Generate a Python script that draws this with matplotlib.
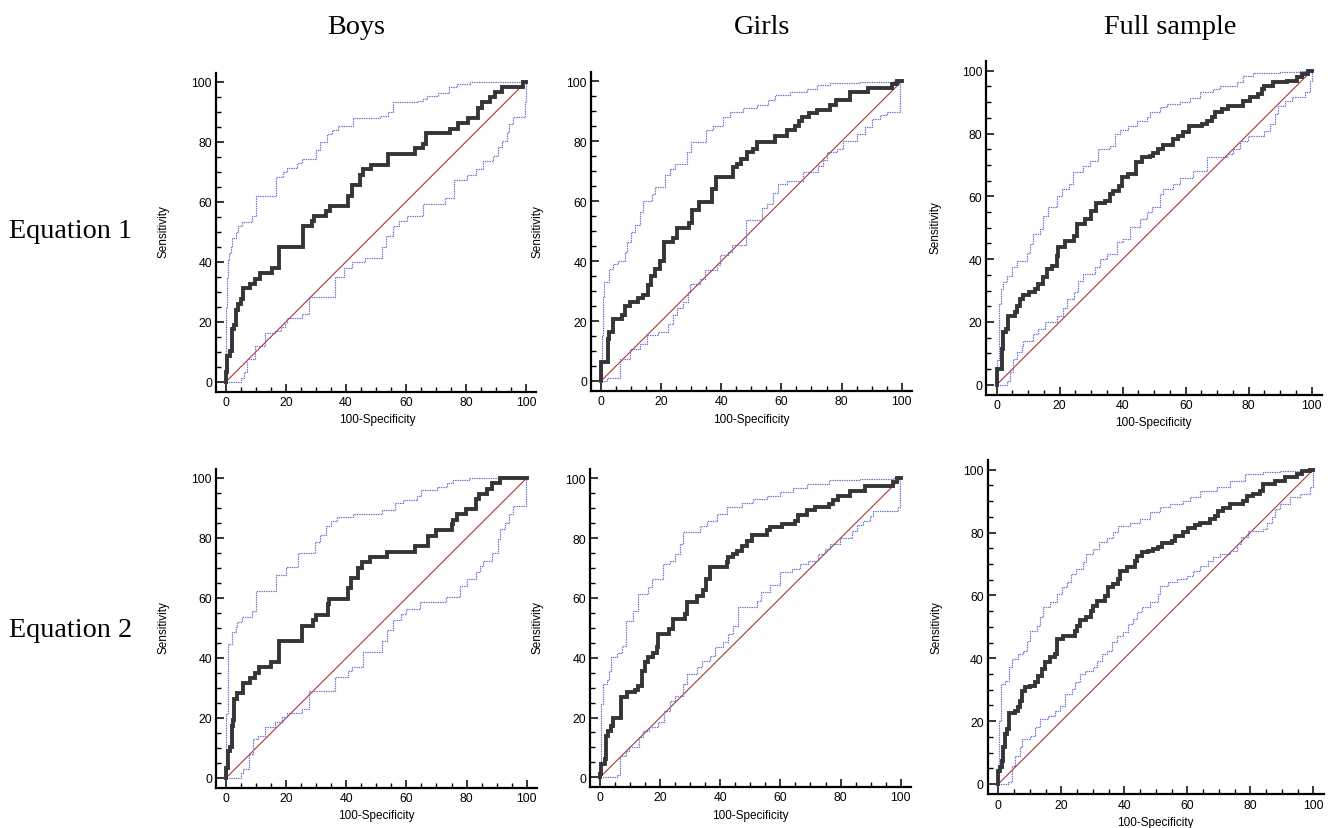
import matplotlib
matplotlib.use("Agg")
import matplotlib.pyplot as plt
from matplotlib.ticker import MultipleLocator

# ROC step corners: (100-specificity, sensitivity) where each vertical jump ends
boys_eq1_roc = [(0, 0), (0, 3.3), (0.4, 8.7), (1.3, 10.3), (2.1, 17.6), (2.7, 18.9), (3.3, 24), (4.1, 25.9),
                (4.9, 27.6), (5.8, 31.2), (8, 32.6), (9.7, 34.2), (11.3, 36.2), (15.2, 37.9), (17.8, 44.8),
                (25.6, 52), (28.8, 53.7), (29.4, 55.3), (33.2, 57), (34.7, 58.7), (40.8, 62), (42.1, 65.7),
                (44.7, 68.9), (45.8, 70.9), (48.3, 72.3), (54.1, 75.9), (63, 77.8), (65.6, 79.2), (66.7, 82.9),
                (74.7, 84.4), (77.4, 86.4), (80.8, 87.9), (84.1, 91.4), (85.4, 93.1), (88, 94.8), (89.7, 96.7),
                (91.9, 98.4), (98.9, 100), (100, 100)]
boys_eq1_upper = [(0, 0), (0, 10), (0.1, 25), (0.3, 35), (0.6, 40.5), (1.1, 43), (1.8, 45), (2, 48), (3.3, 49.8),
                  (4.1, 52), (5.2, 53.3), (8.6, 55.1), (10, 61.8), (16.7, 68.1), (19.1, 69.8), (20.2, 71.1),
                  (23.6, 72.8), (25.2, 74.2), (30, 77.3), (31.3, 80), (33.6, 82.6), (35.2, 84), (37.4, 85.3),
                  (42.4, 87.9), (51.3, 88.7), (54.1, 89.8), (55.8, 93.1), (63.6, 93.7), (65.8, 94.2), (66.9, 95.3),
                  (70.8, 96.1), (74.3, 98.1), (76.9, 99.2), (81.3, 99.8), (95.8, 100), (100, 100)]
boys_eq1_lower = [(0, 0), (5, 1.4), (6.1, 3.1), (7, 7.5), (9.7, 12), (13, 16.4), (16.3, 17), (18.4, 18.4),
                  (19.8, 19.8), (20.2, 21.1), (25.2, 22.6), (27.8, 28.4), (36.3, 34.8), (39.4, 37.9), (41.9, 39.8),
                  (46.3, 41.4), (52.1, 45), (53.3, 48.7), (55.8, 52), (57.8, 53.7), (60.2, 55.3), (65.6, 59.2),
                  (73, 61.4), (76, 67.3), (80.4, 68.9), (83.3, 70.9), (85.8, 73.7), (89.1, 75.1), (90.8, 78.1),
                  (91.9, 80.3), (93.6, 83.1), (94.4, 85.9), (95.8, 88.3), (99.7, 93.1), (100, 100)]

girls_eq1_roc = [(0, 0), (0, 6.3), (2.2, 14.1), (2.8, 16.3), (4.1, 20.6), (6.9, 21.9), (8, 25), (9.6, 26.3),
                 (12.4, 27.7), (13.9, 28.6), (15.7, 31.9), (16.5, 35.2), (18, 37.4), (19.6, 40.2), (21, 46.3),
                 (24, 47.7), (25.4, 51), (29.4, 52.8), (30.2, 56.9), (32.7, 59.7), (36.8, 64.1), (38.2, 68),
                 (43.8, 71.3), (45.1, 72.4), (46.6, 74.1), (48.7, 76.3), (50.7, 77.4), (51.8, 79.9), (57.9, 81.9),
                 (61.8, 83.6), (64.5, 85), (66, 86.9), (66.7, 88), (69.3, 89.3), (71.9, 90.4), (76.2, 92.1),
                 (78.2, 93.8), (82.8, 96.3), (88.9, 97.7), (96.7, 99.1), (98.3, 100), (100, 100)]
girls_eq1_upper = [(0, 0), (0.2, 15), (0.5, 28), (1.1, 33), (2.8, 37.4), (3.9, 39), (5.8, 40.2), (8, 43),
                   (8.8, 46.3), (9.9, 49.7), (11.3, 51.9), (13, 56.3), (14.1, 60.2), (16.9, 62.4), (18, 64.7),
                   (21.3, 68.6), (23, 70.8), (24.6, 72.4), (28.5, 76.3), (29.8, 79.9), (34.9, 83.6), (37.4, 85.2),
                   (40.7, 88), (42.9, 89.7), (47.3, 91), (51.8, 92.1), (55.7, 93.6), (57.9, 95.4), (62.9, 96.3),
                   (68.4, 97.4), (71.7, 98.6), (76.2, 99.4), (86.1, 99.9), (97.2, 100), (100, 100)]
girls_eq1_lower = [(0, 0), (1.9, 1), (6.3, 7.4), (9.6, 10.8), (13, 12.4), (15.2, 15.2), (19.1, 16.3), (22.4, 19.1),
                   (24, 21.9), (25.2, 24.3), (27.4, 26.3), (29, 29.7), (29.6, 32.4), (32.9, 34.1), (34.6, 36.9),
                   (38.5, 38.6), (39.6, 41.9), (42.4, 43.2), (43.5, 45.4), (48.2, 53.6), (53.4, 57.7), (55.1, 59.1),
                   (57.3, 62.8), (59, 65.8), (61.8, 66.9), (67.3, 69.9), (72.3, 71.9), (73.9, 73.9), (75.1, 76.3),
                   (78.4, 77.4), (80.6, 80.2), (85, 82.4), (87.8, 84.7), (90, 87.4), (92.8, 88.6), (95, 89.7),
                   (99.4, 100), (100, 100)]

full_eq1_roc = [(0, 0), (0, 5), (1.6, 11.4), (2.1, 16.7), (3, 17.7), (3.7, 22), (5.8, 23), (6.3, 25.2), (7.4, 27.3),
                (8.5, 28.6), (10.1, 29.4), (12.2, 30.5), (13.2, 32.1), (14.8, 34.2), (15.9, 36.8), (17.5, 37.9),
                (19, 41.1), (19.6, 43.7), (21.7, 45.9), (24.6, 47.5), (25.6, 51.2), (28, 52.8), (29.8, 55.4),
                (31.5, 57.9), (34.4, 58.6), (36, 60.7), (37, 61.8), (38.8, 63.4), (39.7, 66), (41.8, 67.1),
                (44.2, 70.8), (46, 72.4), (48.7, 72.9), (49.7, 73.8), (51.3, 75.1), (52.9, 76.3), (56.1, 78.2),
                (57.7, 79.3), (59.3, 80.4), (61.2, 82.5), (65.1, 83), (66.7, 84.1), (68.3, 85.1), (69.3, 86.7),
                (71.4, 87.8), (73.5, 88.9), (78.3, 90.4), (80.4, 91.5), (83.1, 92.6), (84.1, 94.2), (84.7, 95.2),
                (87.8, 96.3), (92.1, 96.8), (95.2, 97.9), (96.8, 98.9), (98.9, 100), (100, 100)]
full_eq1_upper = [(0, 0), (0.2, 8), (0.6, 25.7), (1.4, 30.5), (2.1, 32.6), (3.4, 34.7), (4.8, 37.4), (6.3, 39.5),
                  (9.5, 42.1), (10.6, 44.8), (11.6, 48), (13.8, 49.6), (14.8, 53.8), (16.4, 56.5), (19, 60.2),
                  (20.6, 62.3), (22.8, 63.9), (24.3, 67.6), (27.5, 69.7), (29.6, 71.3), (32.3, 75.1), (36, 76.1),
                  (37.6, 79.8), (39.2, 81.2), (41.8, 82.5), (44.4, 84.1), (47.6, 85.1), (48.7, 86.7), (51.9, 88.3),
                  (54, 89.4), (58.2, 90.1), (61.4, 91.2), (64.6, 93.1), (68.8, 94.2), (70.9, 95.2), (76.2, 96.3),
                  (78.3, 98.4), (81.5, 99.3), (89.9, 99.7), (96.3, 100), (100, 100)]
full_eq1_lower = [(0, 0), (3.4, 1.2), (4.2, 4.1), (5.3, 8.2), (6.3, 10.3), (7.9, 12.4), (8.5, 14), (11.6, 16.1),
                  (13.2, 17.7), (15.3, 19.9), (19, 22), (21.2, 24.3), (22.2, 27.3), (24.6, 29.4), (25.9, 33.1),
                  (27.5, 35.2), (31.2, 37.4), (32.8, 40), (34.9, 41.6), (38.1, 45.5), (40.2, 46.4), (42.3, 50.1),
                  (45.5, 52.8), (47.6, 54.9), (49.2, 56.5), (51.9, 60.7), (52.9, 62.3), (56.1, 63.9), (58.2, 65.7),
                  (62.4, 68.2), (66.7, 72.4), (73, 73.5), (75.1, 75.1), (77.2, 77.7), (79.9, 79.3), (84.7, 80.9),
                  (86.8, 83), (88.4, 86.2), (89.4, 88.9), (91.5, 90.4), (93.7, 91.5), (97.9, 93.1), (99.5, 96.8),
                  (100, 100)]

boys_eq2_roc = [(0, 0), (0, 3.3), (0.6, 8.9), (1.3, 10.4), (1.9, 17.4), (2.4, 19.3), (2.8, 26.3), (3.5, 28.2),
                (5.8, 31.6), (8, 33.3), (9.6, 34.9), (11.1, 36.9), (15, 38.6), (17.6, 45.8), (25.2, 50.8),
                (29, 52.7), (29.8, 54.3), (33.8, 58), (34.3, 59.7), (40.5, 63.3), (41.6, 66.7), (44, 70),
                (45.3, 71.9), (47.9, 73.8), (53.7, 75.4), (62.9, 77.4), (67.3, 80.8), (69.8, 82.7), (75.1, 84.7),
                (75.6, 86), (76.7, 88), (79.8, 89.7), (83.3, 93), (84.3, 94.7), (86.9, 96.3), (88.4, 98.2),
                (91.1, 100), (100, 100)]
boys_eq2_upper = [(0, 0), (0.1, 21.3), (0.5, 44.7), (1.9, 48.6), (3.3, 50.2), (3.8, 51.9), (5.2, 53.8), (8.5, 55.8),
                  (10, 62.4), (16.6, 67.7), (20, 70.4), (24.1, 74.9), (29.6, 78.6), (31.3, 81.1), (33.3, 84.1),
                  (34.8, 85.6), (36.8, 86.9), (42.4, 88), (51.8, 89.3), (56.2, 91.6), (59, 92.7), (63.4, 94.1),
                  (65, 96), (70.3, 96.9), (73.4, 98.2), (75.6, 99.3), (80.8, 99.9), (91.1, 100), (100, 100)]
boys_eq2_lower = [(0, 0), (4.9, 1.6), (5.8, 3), (7.8, 8), (9.1, 13), (10.8, 14.1), (13, 16.9), (16.3, 18.6),
                  (18.5, 20.2), (20.2, 21.6), (25.2, 23), (27.7, 28.9), (36.3, 33.8), (40.7, 35.8), (41.8, 37.1),
                  (45.7, 41.9), (51.8, 45.8), (53.4, 49.3), (55.7, 52.7), (58.1, 54.7), (59.9, 56.3), (64.5, 58.6),
                  (73.2, 60.4), (77.8, 64.1), (80, 66.3), (83.1, 68.6), (84.5, 70.8), (85.6, 72.4), (88.4, 74.9),
                  (90.6, 79.7), (91.1, 83), (92.8, 84.9), (94.2, 88), (95.6, 90.8), (99.8, 100), (100, 100)]

girls_eq2_roc = [(0, 0), (0, 1.1), (0.3, 4.5), (1.7, 6.1), (2, 13.9), (2.8, 15.6), (3.5, 17.3), (4.2, 19.8),
                 (6.9, 27), (9.1, 28.4), (11.6, 29.2), (12.7, 30.7), (13.9, 35.7), (15, 38.5), (16.1, 40.1),
                 (17.7, 41.5), (18.8, 43.7), (19.4, 47.9), (23.1, 49.6), (24.4, 53), (28.3, 54.6), (29, 58.5),
                 (32.2, 60.8), (34.4, 62.7), (35.3, 66.3), (36.6, 70.5), (42.1, 71.9), (42.7, 73.6), (44.3, 74.7),
                 (45.5, 75.8), (47.1, 77.5), (48.8, 78.9), (50.4, 81.2), (55.4, 82.7), (56.5, 83.8), (60.4, 84.7),
                 (64.9, 85.8), (66, 87.8), (68.7, 89.4), (71.5, 90.5), (76, 91.4), (77.6, 92.8), (79.2, 94.2),
                 (83.1, 95.9), (88.1, 97.5), (97.6, 98.7), (98.9, 100), (100, 100)]
girls_eq2_upper = [(0, 0), (0.2, 24.5), (1.1, 31.2), (2.2, 32.6), (3.1, 35.7), (3.7, 40.4), (5.5, 41.5), (7.2, 44),
                   (8.6, 52.4), (11.1, 55.7), (12.7, 61.3), (16.1, 63.5), (17.2, 66.3), (20.8, 71.3), (23.3, 72.5),
                   (24.9, 74.7), (26.6, 78), (27.7, 81.9), (33.3, 84.2), (35.5, 85.8), (38.8, 88.1), (42.1, 90.3),
                   (47.1, 91.6), (51, 93.1), (55.4, 94.2), (59.9, 95.3), (64.3, 96.8), (68.7, 98.1), (76, 99.4),
                   (86.5, 99.8), (97.6, 100), (100, 100)]
girls_eq2_lower = [(0, 0), (5.8, 0.9), (6.7, 7.2), (8.6, 8.7), (9.8, 10.3), (13.1, 13.4), (14.4, 15.6), (16.4, 16.7),
                   (19.4, 18.4), (21.4, 22.3), (23.3, 25.4), (24.9, 27.3), (27.7, 31.2), (28.8, 34.6), (32.2, 36.8),
                   (33.8, 39), (36.6, 40.7), (38.2, 43.7), (41, 45.2), (42.7, 47.9), (44.3, 50.7), (46, 56.9),
                   (52.1, 59.1), (53.7, 61.9), (56.5, 64.4), (59.9, 68.6), (63.8, 69.7), (66.5, 71.3), (69.3, 72.5),
                   (72.6, 74.7), (74.8, 76.4), (76.5, 78), (79.8, 80), (83.7, 82.5), (85.4, 84.5), (87.6, 85.6),
                   (89.8, 87.5), (90.9, 89.2), (99.2, 90.3), (99.8, 100), (100, 100)]

full_eq2_roc = [(0, 0), (0, 4.2), (0.5, 5.3), (1.1, 7.4), (1.6, 11.7), (2.1, 15.9), (2.9, 17.5), (3.5, 22.5),
                (5.3, 23.3), (6.3, 24.4), (6.9, 26.5), (7.4, 29.5), (8.5, 30.8), (10.1, 31.3), (11.6, 32.3),
                (12.7, 34.5), (13.8, 36.6), (14.8, 38.7), (16.4, 40.3), (18, 41.4), (18.5, 46.1), (20.6, 47.2),
                (24.3, 48.8), (24.9, 50.4), (25.9, 52.2), (28, 53), (29.3, 55.1), (30.2, 56.7), (31.2, 58.3),
                (33.9, 59.9), (34.9, 62.6), (36.5, 63.6), (38.1, 65.2), (38.6, 67.9), (40.7, 68.9), (43.4, 71),
                (43.9, 72.6), (45.5, 73.7), (47.6, 74.2), (49.2, 74.8), (50.8, 75.5), (51.9, 76.6), (55, 77.4),
                (56.1, 79), (58.7, 80.1), (60.3, 81.4), (62.4, 82.5), (64, 83.2), (67.2, 84.3), (68.8, 85.4),
                (69.8, 87), (71.4, 87.8), (73.5, 89.1), (77.8, 90.1), (78.8, 91.7), (81, 92.3), (83.1, 93.3),
                (83.9, 95.4), (87.8, 96.5), (91, 97.6), (94.7, 98.6), (96.3, 99.7), (98.9, 100), (100, 100)]
full_eq2_upper = [(0, 0), (0.2, 20.1), (0.7, 31.8), (2.1, 32.9), (3.5, 37.1), (4.2, 39.8), (6.3, 41.4), (7.9, 42.4),
                  (9, 45.6), (10.1, 48.8), (12.2, 50.4), (13.2, 53), (14.1, 56.2), (16.4, 57.8), (18.5, 60.4),
                  (20.1, 62.6), (21.7, 64.2), (23, 66.8), (24.7, 68.4), (27, 70.5), (28, 73.2), (30.2, 74.8),
                  (32.1, 76.9), (34.4, 78.2), (36.5, 80.1), (38.1, 82.2), (41.8, 83.2), (45, 84.3), (48.1, 86.7),
                  (51.3, 88), (54.5, 89.1), (58.7, 90.1), (60.8, 91.4), (64, 93.3), (69.3, 94.6), (73.5, 96.5),
                  (78.3, 98.6), (84.1, 99.2), (89.4, 99.5), (95.8, 100), (100, 100)]
full_eq2_lower = [(0, 0), (3.2, 0.5), (4.2, 5.8), (5.3, 9), (6.9, 11.7), (7.4, 14.3), (10.1, 15.4), (11.6, 18),
                  (13.2, 20.7), (15.9, 21.7), (18, 23.3), (19.6, 24.9), (21.2, 28.6), (23.3, 30.2), (24.3, 32.3),
                  (25.9, 35), (27.5, 36.1), (30.2, 37.1), (31.2, 39.2), (32.8, 41.4), (34.4, 42.4), (36, 45.1),
                  (37.6, 47.2), (39.7, 48.3), (41.3, 50.9), (42.9, 52.5), (43.9, 54.6), (45.5, 56.2), (48.1, 57.8),
                  (50.8, 60.4), (51.3, 63.1), (54, 64.2), (56.6, 65.2), (59.8, 66.3), (61.9, 67.9), (64, 69.5),
                  (66.7, 71), (68.3, 72.1), (70.4, 73.2), (73.5, 74), (75.7, 76.4), (77.2, 78.5), (79.4, 80.6),
                  (84.1, 81.1), (85.2, 83.2), (86.8, 84.8), (87.8, 87.5), (89.4, 89.1), (92.6, 91.2), (95.8, 92.3),
                  (98.9, 94.4), (99.8, 97), (100, 100)]

col_titles = ["Boys", "Girls", "Full sample"]
row_titles = ["Equation 1", "Equation 2"]
ticks = [0, 20, 40, 60, 80, 100]

panels = [
    [(boys_eq1_roc, boys_eq1_upper, boys_eq1_lower),
     (girls_eq1_roc, girls_eq1_upper, girls_eq1_lower),
     (full_eq1_roc, full_eq1_upper, full_eq1_lower)],
    [(boys_eq2_roc, boys_eq2_upper, boys_eq2_lower),
     (girls_eq2_roc, girls_eq2_upper, girls_eq2_lower),
     (full_eq2_roc, full_eq2_upper, full_eq2_lower)],
]

# layout in pixels: x of 0, x of 100, y of 0, y of 100
W, H = 1333, 829
pix = [
    [(226, 526, 382.7, 82.7), (601, 901.7, 382, 82.3), (996.7, 1311.7, 385.7, 71.7)],
    [(226, 526.7, 779, 479), (600, 900.7, 778.3, 479.3), (998.3, 1313.3, 785, 470.7)],
]
# label centres in pixels: (sens_x, sens_y, spec_x, spec_y)
lab_pix = [
    [(163, 232, 377, 420), (538, 232, 751, 420), (935, 228, 1153, 423)],
    [(163, 628, 376, 816), (537, 628, 750, 816), (937, 628, 1155, 823)],
]
XL = (-3.3, 103.3)
YL = (-3.3, 103)

sans = ["Liberation Sans", "DejaVu Sans"]
serif = ["Liberation Serif", "DejaVu Serif"]

fig = plt.figure(figsize=(W / 100, H / 100), dpi=100)

for r in range(2):
    for c in range(3):
        x0, x100, y0, y100 = pix[r][c]
        sx = (x100 - x0) / 100
        sy = (y0 - y100) / 100
        left = x0 + XL[0] * sx
        right = x0 + XL[1] * sx
        bottom = y0 - YL[0] * sy
        top = y0 - YL[1] * sy
        ax = fig.add_axes([left / W, 1 - bottom / H, (right - left) / W, (bottom - top) / H])
        ax.set_xlim(*XL)
        ax.set_ylim(*YL)
        ax.patch.set_alpha(0)

        roc, upper, lower = panels[r][c]
        ax.plot([0, 100], [0, 100], color="#a83838", lw=0.8, zorder=1)
        for ci in (upper, lower):
            cx, cy = zip(*ci)
            ax.plot(cx, cy, drawstyle="steps-post", color="#6c6cd4", lw=0.85,
                    ls=(0, (1.2, 0.8)), zorder=2)
        rx, ry = zip(*roc)
        ax.plot(rx, ry, drawstyle="steps-post", color="#353535", lw=2.8, zorder=3,
                solid_joinstyle="miter")

        for s in ["top", "right"]:
            ax.spines[s].set_visible(False)
        for s in ["left", "bottom"]:
            ax.spines[s].set_linewidth(1.6)
        ax.set_xticks(ticks)
        ax.set_yticks(ticks)
        ax.xaxis.set_minor_locator(MultipleLocator(5))
        ax.yaxis.set_minor_locator(MultipleLocator(5))
        ax.tick_params(which="major", direction="in", length=6, width=1.1, pad=3, labelsize=8.8)
        ax.tick_params(which="minor", direction="in", length=3.5, width=1.0)
        for lbl in ax.get_xticklabels() + ax.get_yticklabels():
            lbl.set_family(sans)

        sxp, syp, spx, spy = lab_pix[r][c]
        ax.set_ylabel("Sensitivity", family=sans, fontsize=8.5)
        ax.yaxis.set_label_coords((sxp - left) / (right - left), (bottom - syp) / (bottom - top))
        ax.set_xlabel("100-Specificity", family=sans, fontsize=8.5)
        ax.xaxis.set_label_coords((spx - left) / (right - left), (bottom - spy) / (bottom - top))
        ax.yaxis.label.set_va("center")
        ax.xaxis.label.set_va("center")

col_x = [356, 762, 1170]
for t, x in zip(col_titles, col_x):
    fig.text(x / W, 1 - 34 / H, t, ha="center", va="baseline", family=serif, fontsize=20.3)
row_y = [238, 637]
for t, y in zip(row_titles, row_y):
    fig.text(9 / W, 1 - y / H, t, ha="left", va="baseline", family=serif, fontsize=20.3)

fig.savefig("out.png", dpi=100)
